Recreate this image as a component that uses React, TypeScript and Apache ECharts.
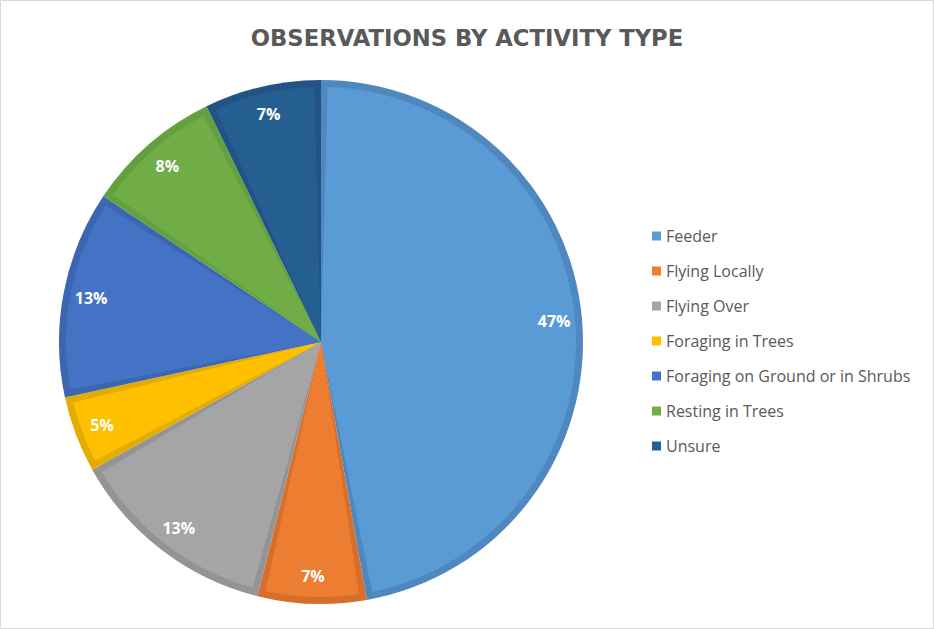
import React, { useEffect, useRef } from "react";
import * as echarts from "echarts";

const categories = [
  "Feeder",
  "Flying Locally",
  "Flying Over",
  "Foraging in Trees",
  "Foraging on Ground or in Shrubs",
  "Resting in Trees",
  "Unsure",
];
const values = [47.2, 6.7, 13.0, 4.7, 12.8, 8.4, 7.2];
const fillColors = ["#5B9BD5", "#ED7D31", "#A5A5A5", "#FFC000", "#4472C4", "#70AD47", "#255E91"];
const edgeColors = ["#4F88BE", "#D56F2B", "#949494", "#E5AC00", "#3D66B0", "#64A040", "#215485"];

export default function App() {
  const ref = useRef<HTMLDivElement>(null);
  useEffect(() => {
    document.body.style.margin = "0";
    const chart = echarts.init(ref.current!, undefined, { renderer: "svg" });
    const cx = 321;
    const cy = 342;
    const R = 262;
    const light = categories.map((name, i) => ({ name, value: values[i], itemStyle: { color: fillColors[i] } }));
    const dark = categories.map((name, i) => ({ name, value: values[i], itemStyle: { color: edgeColors[i] } }));
    const ring = categories.map((name, i) => ({ name, value: values[i], itemStyle: { color: "transparent" } }));
    chart.setOption({
      animation: false,
      backgroundColor: "#ffffff",
      title: {
        text: "OBSERVATIONS BY ACTIVITY TYPE",
        left: "center",
        top: 26,
        padding: 0,
        textStyle: {
          fontFamily: "DejaVu Sans",
          fontWeight: "bold",
          fontSize: 22.7,
          color: "#595959",
        },
      },
      legend: {
        orient: "vertical",
        left: 652,
        top: 226,
        padding: 0,
        itemWidth: 9,
        itemHeight: 9,
        itemGap: 15,
        icon: "rect",
        selectedMode: false,
        data: categories,
        textStyle: {
          fontFamily: "Open Sans",
          fontSize: 16,
          lineHeight: 20,
          color: "#595959",
          padding: [0, 0, 0, 0],
        },
      },
      graphic: [
        {
          type: "rect",
          shape: { x: 0.5, y: 0.5, width: 933, height: 628 },
          style: { fill: "none", stroke: "#D9D9D9", lineWidth: 1 },
          silent: true,
        },
      ],
      series: [
        {
          type: "pie",
          z: 3,
          center: [cx, cy],
          radius: [0, R - 7],
          startAngle: 90,
          clockwise: true,
          padAngle: 3,
          silent: true,
          label: { show: false },
          labelLine: { show: false },
          data: light,
        },
        {
          type: "pie",
          z: 2,
          center: [cx, cy],
          radius: [0, R],
          startAngle: 90,
          clockwise: true,
          silent: true,
          label: { show: false },
          labelLine: { show: false },
          data: dark,
        },
        {
          type: "pie",
          z: 4,
          center: [cx, cy],
          radius: [R - 62, R],
          startAngle: 90,
          clockwise: true,
          silent: true,
          labelLine: { show: false },
          label: {
            show: true,
            position: "inside",
            formatter: (p: any) => Math.round(p.value) + "%",
            fontFamily: "Open Sans",
            fontWeight: "bold",
            fontSize: 16,
            color: "#ffffff",
          },
          data: ring,
        },
      ],
    });
    return () => chart.dispose();
  }, []);
  return <div ref={ref} style={{ width: 934, height: 629 }} />;
}
